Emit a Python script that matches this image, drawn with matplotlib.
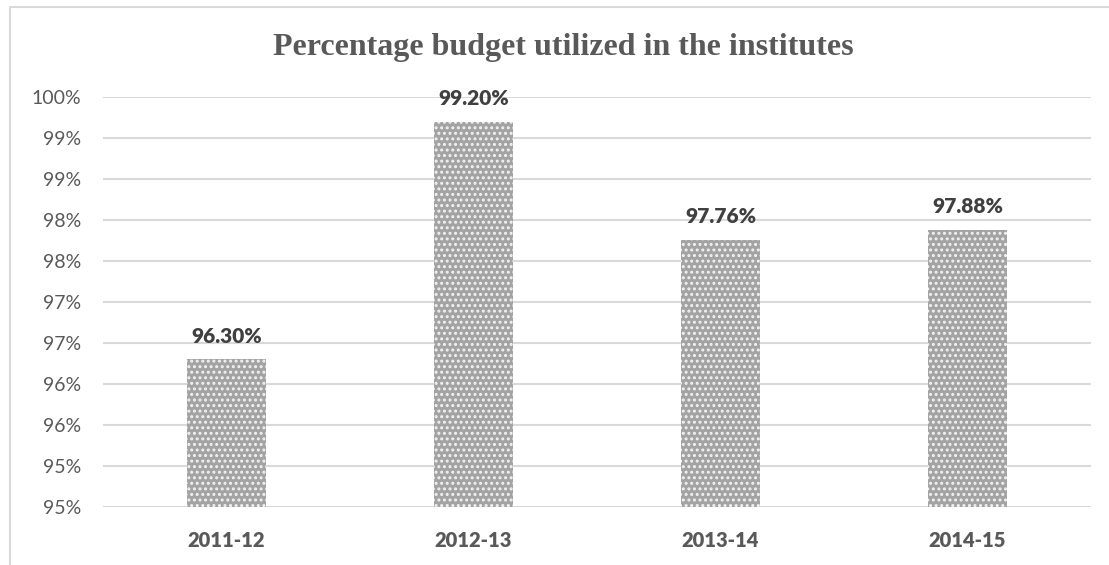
import matplotlib
matplotlib.use("Agg")
import matplotlib.pyplot as plt
from matplotlib.lines import Line2D

# ---- data ----
categories = ["2011-12", "2012-13", "2013-14", "2014-15"]
values = [96.30, 99.20, 97.76, 97.88]
value_labels = ["96.30%", "99.20%", "97.76%", "97.88%"]
y_ticks = [94.5, 95.0, 95.5, 96.0, 96.5, 97.0, 97.5, 98.0, 98.5, 99.0, 99.5]
y_tick_labels = ["95%", "95%", "96%", "96%", "97%", "97%", "98%", "98%", "99%", "99%", "100%"]
title = "Percentage budget utilized in the institutes"

W, H = 1109, 565
plt.rcParams["hatch.linewidth"] = 1.4
fig = plt.figure(figsize=(W / 100, H / 100), dpi=100)
fig.patch.set_facecolor("white")

ax = fig.add_axes([103 / W, 1 - 507 / H, (1091 - 103) / W, (507 - 97) / H])
x = list(range(len(categories)))
bars = ax.bar(x, values, width=0.316, color="#a3a3a3", edgecolor="#f2f2f2",
              hatch="...", linewidth=0, zorder=2)

ax.set_xlim(-0.5, len(categories) - 0.5)
ax.set_ylim(y_ticks[0], y_ticks[-1])
ax.set_yticks(y_ticks)
ax.set_yticklabels(y_tick_labels, fontfamily="Lato", fontsize=14, color="#595959")
ax.set_xticks(x)
ax.set_xticklabels(categories, fontfamily="Lato", fontsize=14.5, fontweight="heavy", color="#595959")
ax.tick_params(axis="both", length=0)
ax.tick_params(axis="y", pad=16)
ax.tick_params(axis="x", pad=17)
for s in ax.spines.values():
    s.set_visible(False)
ax.yaxis.grid(True, color="#d9d9d9", linewidth=1.5, zorder=0)
ax.set_axisbelow(True)

for xi, v, lab in zip(x, values, value_labels):
    ax.annotate(lab, (xi, v), xytext=(0, 10), textcoords="offset points",
                ha="center", va="bottom", fontfamily="Lato", fontsize=15,
                fontweight="heavy", color="#404040")

fig.text(563 / W, 1 - 47 / H, title, ha="center", va="center",
         fontfamily="Liberation Serif", fontsize=23, fontweight="bold", color="#595959")

# outer chart border (partially visible)
fig.add_artist(Line2D([10 / W, 10 / W, 1.0], [0.0, 1 - 7 / H, 1 - 7 / H],
                      transform=fig.transFigure, color="#d9d9d9", linewidth=1.5))

fig.savefig("out.png", dpi=100)
